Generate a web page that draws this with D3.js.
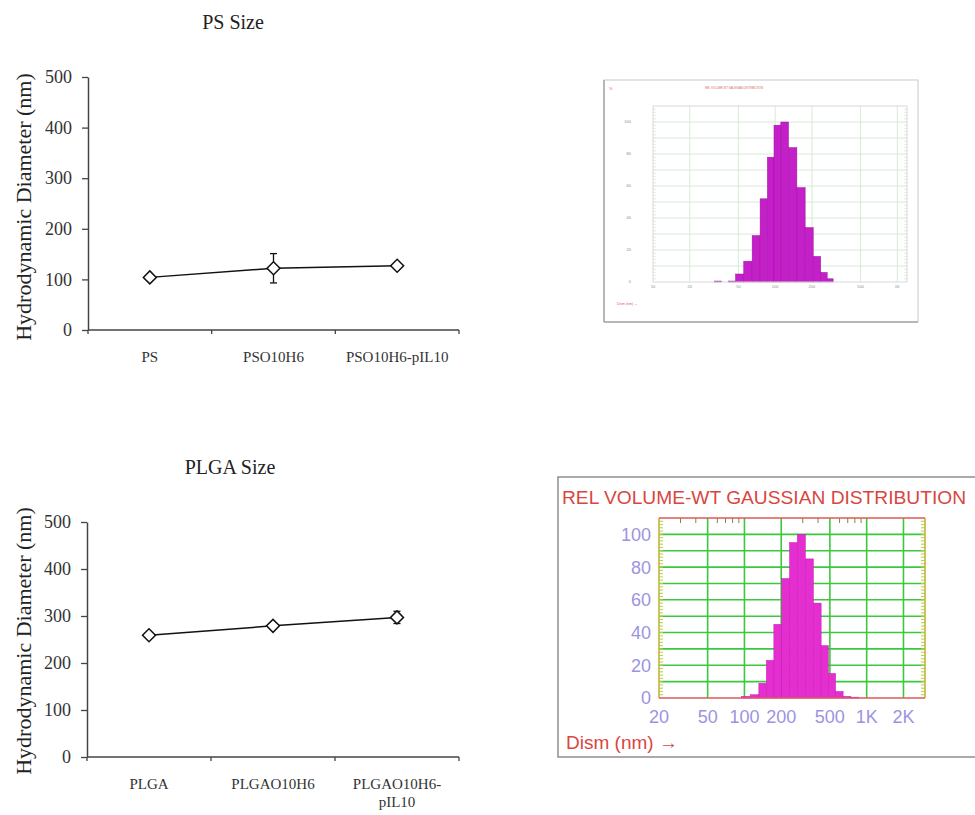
<!DOCTYPE html>
<html>
<head>
<meta charset="utf-8">
<script src="https://cdn.jsdelivr.net/npm/d3@7"></script>
<style>
  body { margin: 0; background: #fff; }
  svg { display: block; }
</style>
</head>
<body>
<div id="chart"></div>
<script>
/*
 * Data.
 */
var sizeTicks = [0, 100, 200, 300, 400, 500];

var psCategories = ["PS", "PSO10H6", "PSO10H6-pIL10"]
  , psTickLines = [["PS"], ["PSO10H6"], ["PSO10H6-pIL10"]]
  , psSize = [104, 122, 127]
  , psError = [3, 29, 5];

var plgaCategories = ["PLGA", "PLGAO10H6", "PLGAO10H6-pIL10"]
  , plgaTickLines = [["PLGA"], ["PLGAO10H6"], ["PLGAO10H6-", "pIL10"]]
  , plgaSize = [259, 279, 297]
  , plgaError = [4, 5, 13];

// histogram (relative volume vs diameter, nm)
var volumeTicks = [0, 20, 40, 60, 80, 100];

var psDiam = [34, 39, 44, 51, 60, 70, 81, 92, 104, 119, 139, 163, 190, 221, 252, 282]
  , psVolume = [0.6, 0, 0.6, 5, 13, 29, 52, 78, 98, 100, 84, 59, 34, 16, 6, 2]
  , psDiamTicks = [10, 20, 50, 100, 200, 500, 1000]
  , psDiamLabels = ["10", "20", "50", "100", "200", "500", "1K"];

var plgaDiam = [103, 122, 141, 162, 187, 218, 251, 292, 340, 395, 455, 519, 597, 690, 800]
  , plgaVolume = [1, 2, 9, 23, 45, 73, 95, 100, 85, 58, 32, 15, 4, 1, 0.5]
  , plgaDiamTicks = [20, 50, 100, 200, 500, 1000, 2000]
  , plgaDiamLabels = ["20", "50", "100", "200", "500", "1K", "2K"]
  , minorDiam = [30, 40, 60, 70, 80, 90, 300, 400, 600, 700, 800, 900];

var serif = "'Liberation Serif', 'Times New Roman', serif"
  , sans = "'Liberation Sans', Arial, sans-serif";

var svg = d3.select('#chart').append('svg')
  .attr('width', 975)
  .attr('height', 815);


/*
 * Line chart with diamonds and error bars.
 */
function drawSizeChart(cfg) {
  var x = d3.scaleBand().domain(cfg.categories).range([cfg.left, cfg.right])
    , y = d3.scaleLinear().domain([0, 500]).range([cfg.bottom, cfg.top])
    , g = svg.append('g');

  g.append('text')
    .attr('x', cfg.titleX)
    .attr('y', cfg.titleY)
    .attr('text-anchor', 'middle')
    .attr('font-family', serif)
    .attr('font-size', 20)
    .attr('fill', '#222')
    .text(cfg.title);

  g.append('text')
    .attr('transform', 'translate(23,' + cfg.labelY + ') rotate(-90)')
    .attr('dy', '0.35em')
    .attr('text-anchor', 'middle')
    .attr('font-family', serif)
    .attr('font-size', 22)
    .attr('fill', '#222')
    .text('Hydrodynamic Diameter (nm)');

  var yAxis = g.append('g')
    .attr('transform', 'translate(' + cfg.left + ',0)')
    .call(d3.axisLeft(y).tickValues(sizeTicks).tickSize(6).tickSizeOuter(0).tickPadding(10));
  yAxis.select('.domain').attr('stroke', '#444').attr('stroke-width', 1.5);
  yAxis.selectAll('.tick line').attr('stroke', '#444').attr('stroke-width', 1.3);
  yAxis.selectAll('.tick text')
    .attr('font-family', serif)
    .attr('font-size', 18)
    .attr('fill', '#333');

  // x axis, ticks sit between the categories
  g.append('line')
    .attr('x1', cfg.left).attr('x2', cfg.right)
    .attr('y1', cfg.bottom).attr('y2', cfg.bottom)
    .attr('stroke', '#444').attr('stroke-width', 1.5);

  var edges = cfg.categories.map(function(d) { return x(d); }).concat([cfg.right]);
  g.selectAll('.xtick').data(edges).enter()
    .append('line')
    .attr('x1', function(d) { return d; })
    .attr('x2', function(d) { return d; })
    .attr('y1', cfg.bottom)
    .attr('y2', cfg.bottom + 4)
    .attr('stroke', '#444').attr('stroke-width', 1.3);

  var labels = g.selectAll('.xlabel').data(cfg.categories).enter()
    .append('text')
    .attr('text-anchor', 'middle')
    .attr('font-family', serif)
    .attr('font-size', 15)
    .attr('fill', '#333');
  labels.each(function(d, i) {
    var t = d3.select(this);
    cfg.tickLines[i].forEach(function(s, j) {
      t.append('tspan')
        .attr('x', x(d) + x.bandwidth() / 2)
        .attr('y', cfg.bottom + 32 + j * 18)
        .text(s);
    });
  });

  var pts = cfg.categories.map(function(c, i) {
    return { cat: c, v: cfg.values[i], e: cfg.errors[i] };
  });
  var cx = function(d) { return x(d.cat) + x.bandwidth() / 2; };

  g.append('path')
    .datum(pts)
    .attr('fill', 'none')
    .attr('stroke', '#111')
    .attr('stroke-width', 1.5)
    .attr('d', d3.line().x(cx).y(function(d) { return y(d.v); }));

  var err = g.selectAll('.err').data(pts).enter().append('g')
    .attr('stroke', '#111').attr('stroke-width', 1.3);
  err.append('line')
    .attr('x1', cx).attr('x2', cx)
    .attr('y1', function(d) { return y(d.v - d.e); })
    .attr('y2', function(d) { return y(d.v + d.e); });
  [-1, 1].forEach(function(s) {
    err.append('line')
      .attr('x1', function(d) { return cx(d) - 3.5; })
      .attr('x2', function(d) { return cx(d) + 3.5; })
      .attr('y1', function(d) { return y(d.v + s * d.e); })
      .attr('y2', function(d) { return y(d.v + s * d.e); });
  });

  g.selectAll('.pt').data(pts).enter()
    .append('path')
    .attr('d', d3.symbol(d3.symbolSquare, 84))
    .attr('transform', function(d) {
      return 'translate(' + cx(d) + ',' + y(d.v) + ') rotate(45)';
    })
    .attr('fill', '#fff')
    .attr('stroke', '#111')
    .attr('stroke-width', 1.5);
}


/*
 * Nicomp style volume distribution.
 */
function drawHist(cfg) {
  var g = svg.append('g')
    , x = d3.scaleLog().domain(cfg.xDomain).range([cfg.x0, cfg.x1])
    , y = d3.scaleLinear().domain([0, 110]).range([cfg.y0, cfg.y1]);

  // frame
  g.append('rect')
    .attr('x', cfg.box[0]).attr('y', cfg.box[1])
    .attr('width', cfg.box[2]).attr('height', cfg.box[3])
    .attr('fill', '#fff')
    .attr('stroke', cfg.boxColor)
    .attr('stroke-width', cfg.boxWidth);

  // grid
  g.selectAll('.hg').data(d3.range(10, 110, 10)).enter()
    .append('line')
    .attr('x1', cfg.x0).attr('x2', cfg.x1)
    .attr('y1', function(d) { return y(d); })
    .attr('y2', function(d) { return y(d); })
    .attr('stroke', cfg.gridColor).attr('stroke-width', cfg.gridWidth);
  g.selectAll('.vg').data(cfg.ticks.slice(1)).enter()
    .append('line')
    .attr('x1', function(d) { return x(d); })
    .attr('x2', function(d) { return x(d); })
    .attr('y1', cfg.y1).attr('y2', cfg.y0)
    .attr('stroke', cfg.gridColor).attr('stroke-width', cfg.gridWidth);

  // minor ticks on the sides and top
  g.selectAll('.ly').data(d3.range(2, 110, 2)).enter()
    .append('path')
    .attr('d', function(d) {
      return 'M' + cfg.x0 + ',' + y(d) + 'h' + cfg.tick +
             'M' + cfg.x1 + ',' + y(d) + 'h' + (-cfg.tick);
    })
    .attr('stroke', cfg.sideColor).attr('stroke-width', 1);
  g.selectAll('.tx').data(cfg.minor).enter()
    .append('line')
    .attr('x1', function(d) { return x(d); })
    .attr('x2', function(d) { return x(d); })
    .attr('y1', cfg.y1).attr('y2', cfg.y1 + cfg.tick + 1)
    .attr('stroke', cfg.topTickColor).attr('stroke-width', 1);

  // bars: edges at geometric midpoints between neighbouring bins
  var d = cfg.diam, n = d.length;
  var bins = d.map(function(c, i) {
    var lo = i > 0 ? Math.sqrt(d[i - 1] * c) : c / Math.sqrt(d[1] / d[0])
      , hi = i < n - 1 ? Math.sqrt(d[i + 1] * c) : c * Math.sqrt(d[n - 1] / d[n - 2]);
    return { lo: lo, hi: hi, v: cfg.volume[i] };
  });
  g.selectAll('.bar').data(bins).enter()
    .append('rect')
    .attr('x', function(b) { return x(b.lo); })
    .attr('width', function(b) { return x(b.hi) - x(b.lo); })
    .attr('y', function(b) { return y(b.v); })
    .attr('height', function(b) { return cfg.y0 - y(b.v); })
    .attr('fill', cfg.barColor)
    .attr('stroke', cfg.barStroke)
    .attr('stroke-width', 0.5);

  // plot borders
  g.append('path')
    .attr('d', 'M' + cfg.x0 + ',' + cfg.y1 + 'V' + cfg.y0 + 'M' + cfg.x1 + ',' + cfg.y1 + 'V' + cfg.y0)
    .attr('stroke', cfg.sideBorder).attr('stroke-width', cfg.gridWidth);
  g.append('path')
    .attr('d', 'M' + cfg.x0 + ',' + cfg.y1 + 'H' + cfg.x1 + 'M' + cfg.x0 + ',' + cfg.y0 + 'H' + cfg.x1)
    .attr('stroke', cfg.hBorder).attr('stroke-width', cfg.gridWidth);

  // texts
  g.append('text')
    .attr('x', cfg.titlePos[0]).attr('y', cfg.titlePos[1])
    .attr('font-family', sans)
    .attr('font-size', cfg.titleSize)
    .attr('fill', cfg.red)
    .attr('textLength', cfg.titleLen)
    .attr('lengthAdjust', 'spacingAndGlyphs')
    .text('REL VOLUME-WT GAUSSIAN DISTRIBUTION');

  g.selectAll('.yl').data(volumeTicks).enter()
    .append('text')
    .attr('x', cfg.x0 - cfg.labelGap)
    .attr('y', function(v) { return y(v); })
    .attr('dy', '0.36em')
    .attr('text-anchor', 'end')
    .attr('font-family', sans)
    .attr('font-size', cfg.labelSize)
    .attr('fill', cfg.labelColor)
    .text(function(v) { return v; });

  g.selectAll('.xl').data(cfg.ticks).enter()
    .append('text')
    .attr('x', function(v) { return x(v); })
    .attr('y', cfg.y0 + cfg.labelSize * 1.4)
    .attr('text-anchor', 'middle')
    .attr('font-family', sans)
    .attr('font-size', cfg.labelSize)
    .attr('fill', cfg.labelColor)
    .text(function(v, i) { return cfg.tickLabels[i]; });

  g.append('text')
    .attr('x', cfg.dismPos[0]).attr('y', cfg.dismPos[1])
    .attr('font-family', sans)
    .attr('font-size', cfg.dismSize)
    .attr('fill', cfg.red)
    .text('Dism (nm) \u2192');

  return g;
}


drawSizeChart({
  categories: psCategories, tickLines: psTickLines,
  values: psSize, errors: psError,
  left: 88, right: 459, top: 77, bottom: 330,
  title: 'PS Size', titleX: 233, titleY: 29, labelY: 207
});

drawSizeChart({
  categories: plgaCategories, tickLines: plgaTickLines,
  values: plgaSize, errors: plgaError,
  left: 87, right: 459, top: 522, bottom: 757,
  title: 'PLGA Size', titleX: 230, titleY: 474, labelY: 641
});

// small, washed out PS distribution
var psBox = drawHist({
  diam: psDiam, volume: psVolume,
  ticks: psDiamTicks, tickLabels: psDiamLabels, minor: [],
  xDomain: [10, 1200], x0: 653, x1: 907, y0: 282, y1: 106,
  box: [604, 80, 314, 242], boxColor: '#c8c8c8', boxWidth: 1,
  gridColor: '#d6ebd6', gridWidth: 1, sideColor: '#e4ecd8', topTickColor: '#ddd',
  sideBorder: '#d8d8d8', hBorder: '#d8d8d8', tick: 3,
  barColor: '#c41fc8', barStroke: '#9a189c',
  red: '#e06060', titlePos: [705, 89], titleSize: 3.5, titleLen: 58,
  labelGap: 22, labelSize: 4, labelColor: '#8a8a8a',
  dismPos: [617, 305], dismSize: 3.5
});
psBox.append('path')
  .attr('d', 'M604,322V80M604,322H918')
  .attr('fill', 'none')
  .attr('stroke', '#a8a8a8').attr('stroke-width', 1.5);
psBox.append('text')
  .attr('x', 609).attr('y', 90)
  .attr('font-family', sans).attr('font-size', 4)
  .attr('fill', '#e06060')
  .text('%');

// PLGA distribution
drawHist({
  diam: plgaDiam, volume: plgaVolume,
  ticks: plgaDiamTicks, tickLabels: plgaDiamLabels, minor: minorDiam,
  xDomain: [20, 3000], x0: 659, x1: 925, y0: 698, y1: 518,
  box: [558, 477, 450, 280], boxColor: '#8e8e8e', boxWidth: 1.5,
  gridColor: '#3cc83c', gridWidth: 1.6, sideColor: '#b8d23a', topTickColor: '#7a8a3a',
  sideBorder: '#c8b43c', hBorder: '#e05a5a', tick: 4,
  barColor: '#e52ed0', barStroke: '#c818b4',
  red: '#d8463f', titlePos: [562, 504], titleSize: 19.2, titleLen: 404,
  labelGap: 8, labelSize: 18, labelColor: '#9c94e0',
  dismPos: [566, 749], dismSize: 19
});
</script>
</body>
</html>
